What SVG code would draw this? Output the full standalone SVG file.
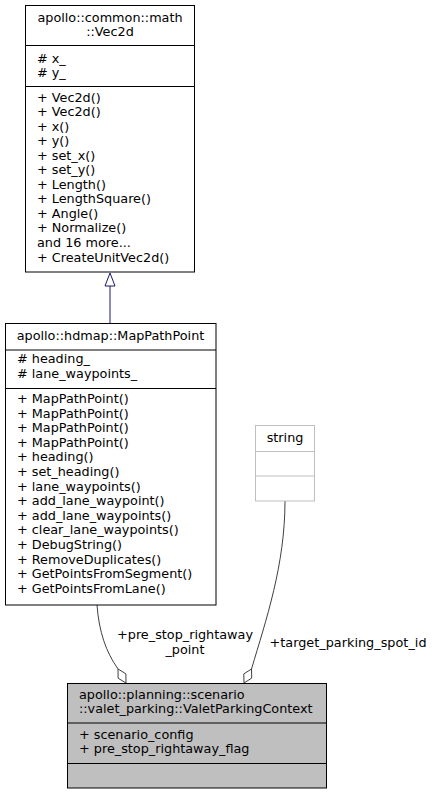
<svg xmlns="http://www.w3.org/2000/svg" width="435" height="795" viewBox="0 0 435 795">
<style>
text{font-family:"DejaVu Sans",sans-serif;font-size:12.8px;fill:#000}
.c{text-anchor:middle}
.box{fill:#fff;stroke:#000;stroke-width:1}
.ln{stroke:#000;stroke-width:1}
.edge{fill:none;stroke:#404040;stroke-width:1}
</style>
<rect width="435" height="795" fill="#fff"/>
<g id="connectors">
<path class="edge" d="M97,605 C99,632 106,652 118,669"/>
<polygon points="118,669 125.9,673.8 126,683 118.1,678.2" fill="#fff" stroke="#404040"/>
<path class="edge" d="M285,501 C285,565 266,620 251.5,669"/>
<polygon points="251.5,669 251.7,678.1 244,683 243.8,673.9" fill="#fff" stroke="#404040"/>
<text x="185" y="639" class="c">+pre_stop_rightaway</text>
<text x="185" y="654" class="c">_point</text>
<text x="269.5" y="647" textLength="157">+target_parking_spot_id</text>
<line x1="110" y1="286" x2="110" y2="323" stroke="#191970" stroke-width="1"/>
<polygon points="110,273 115,286 105,286" fill="#fff" stroke="#191970"/>
</g>
<g id="vec2d">
<rect class="box" x="25.5" y="5.5" width="169" height="266.5"/>
<line class="ln" x1="25.5" y1="45.5" x2="194.5" y2="45.5"/>
<line class="ln" x1="25.5" y1="86.5" x2="194.5" y2="86.5"/>
<text x="110" y="21.7" class="c">apollo::common::math</text>
<text x="110" y="36.3" class="c">::Vec2d</text>
<text x="37" y="62.5"># x_</text>
<text x="37" y="77"># y_</text>
<text x="37" y="101.5">+ Vec2d()</text>
<text x="37" y="116.05">+ Vec2d()</text>
<text x="37" y="130.6">+ x()</text>
<text x="37" y="145.15">+ y()</text>
<text x="37" y="159.7">+ set_x()</text>
<text x="37" y="174.25">+ set_y()</text>
<text x="37" y="188.8">+ Length()</text>
<text x="37" y="203.35">+ LengthSquare()</text>
<text x="37" y="217.9">+ Angle()</text>
<text x="37" y="232.45">+ Normalize()</text>
<text x="37" y="247">and 16 more...</text>
<text x="37" y="261.55">+ CreateUnitVec2d()</text>
</g>
<g id="mappathpoint">
<rect class="box" x="5.5" y="323.5" width="210.5" height="281.5"/>
<line class="ln" x1="5.5" y1="350" x2="216" y2="350"/>
<line class="ln" x1="5.5" y1="388.5" x2="216" y2="388.5"/>
<text x="110.5" y="339.5" class="c">apollo::hdmap::MapPathPoint</text>
<text x="17" y="363"># heading_</text>
<text x="17" y="377.5"># lane_waypoints_</text>
<text x="17" y="403">+ MapPathPoint()</text>
<text x="17" y="417.6">+ MapPathPoint()</text>
<text x="17" y="432.2">+ MapPathPoint()</text>
<text x="17" y="446.8">+ MapPathPoint()</text>
<text x="17" y="461.4">+ heading()</text>
<text x="17" y="476">+ set_heading()</text>
<text x="17" y="490.6">+ lane_waypoints()</text>
<text x="17" y="505.2">+ add_lane_waypoint()</text>
<text x="17" y="519.8">+ add_lane_waypoints()</text>
<text x="17" y="534.4">+ clear_lane_waypoints()</text>
<text x="17" y="549">+ DebugString()</text>
<text x="17" y="563.6">+ RemoveDuplicates()</text>
<text x="17" y="578.2">+ GetPointsFromSegment()</text>
<text x="17" y="592.8">+ GetPointsFromLane()</text>
</g>
<g id="string">
<rect x="255.5" y="425.5" width="59" height="75.5" fill="#fff" stroke="#bfbfbf"/>
<line x1="255.5" y1="451.5" x2="314.5" y2="451.5" stroke="#bfbfbf"/>
<line x1="255.5" y1="476" x2="314.5" y2="476" stroke="#bfbfbf"/>
<text x="285" y="442" class="c">string</text>
</g>
<g id="valetparkingcontext">
<rect x="67.5" y="683.5" width="259" height="104.5" fill="#bfbfbf" stroke="#000"/>
<line class="ln" x1="67.5" y1="723" x2="326.5" y2="723"/>
<line class="ln" x1="67.5" y1="763.5" x2="326.5" y2="763.5"/>
<text x="79" y="698.5">apollo::planning::scenario</text>
<text x="79" y="713">::valet_parking::ValetParkingContext</text>
<text x="79" y="738.5">+ scenario_config</text>
<text x="79" y="753">+ pre_stop_rightaway_flag</text>
</g>
</svg>
